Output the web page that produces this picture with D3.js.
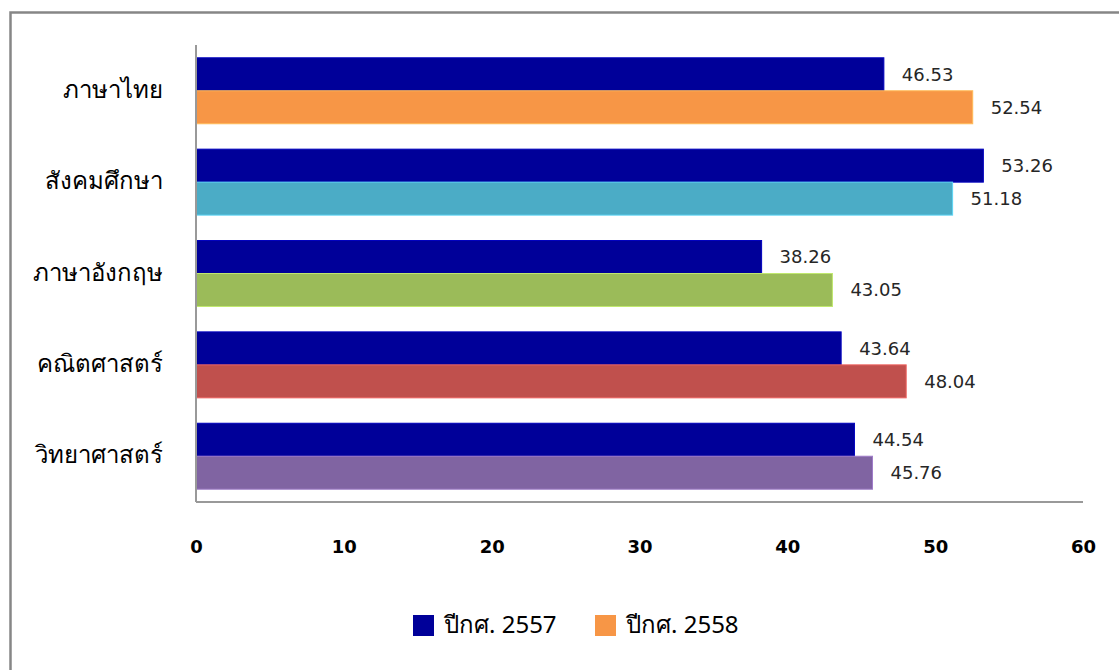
<!DOCTYPE html>
<html>
<head>
<meta charset="utf-8">
<script src="https://cdn.jsdelivr.net/npm/d3@7"></script>
<style>
  body { margin: 0; background: #fff; }
  svg { display: block; }
</style>
</head>
<body>
<svg id="chart"></svg>
<script>
const subjects = ['ภาษาไทย', 'สังคมศึกษา', 'ภาษาอังกฤษ', 'คณิตศาสตร์', 'วิทยาศาสตร์'];
const seriesNames = ['ปีกศ. 2557', 'ปีกศ. 2558'];
const values2557 = [46.53, 53.26, 38.26, 43.64, 44.54];
const values2558 = [52.54, 51.18, 43.05, 48.04, 45.76];
const xTicks = [0, 10, 20, 30, 40, 50, 60];

const navy = '#000099';
const colors2558 = ['#F79646', '#4BACC6', '#9BBB59', '#C0504D', '#8064A2'];

const W = 1119, H = 670;
const margin = {top: 45, right: 36, bottom: 168, left: 196};
const width = W - margin.left - margin.right,
  height = H - margin.top - margin.bottom;

const svg = d3.select('#chart').attr('width', W).attr('height', H);

// outer frame (top and left edges visible)
svg.append('path')
  .attr('d', `M10.5,${H} V12.5 H${W}`)
  .attr('fill', 'none')
  .attr('stroke', '#868686')
  .attr('stroke-width', 2.5);

const g = svg.append('g').attr('transform', `translate(${margin.left},${margin.top})`);

const x = d3.scaleLinear().domain([0, 60]).range([0, width]);
const y = d3.scaleBand().domain(subjects).range([0, height]).paddingInner(0.278).paddingOuter(0.14);
const ySub = d3.scaleBand().domain([0, 1]).range([0, y.bandwidth()]);

const rows = subjects.map((s, i) => ({
  subject: s,
  bars: [
    {k: 0, v: values2557[i], c: navy},
    {k: 1, v: values2558[i], c: colors2558[i]}
  ]
}));

const group = g.selectAll('g.group').data(rows).enter().append('g')
  .attr('class', 'group')
  .attr('transform', d => `translate(0,${y(d.subject)})`);

group.selectAll('rect').data(d => d.bars).enter().append('rect')
  .attr('x', 0)
  .attr('y', d => ySub(d.k))
  .attr('width', d => x(d.v))
  .attr('height', ySub.bandwidth())
  .attr('fill', d => d.c)
  .attr('stroke', d => d3.color(d.c).brighter(0.6))
  .attr('stroke-width', 1);

group.selectAll('text.val').data(d => d.bars).enter().append('text')
  .attr('class', 'val')
  .attr('x', d => x(d.v) + 18)
  .attr('y', d => ySub(d.k) + ySub.bandwidth() / 2)
  .attr('dy', '0.35em')
  .attr('font-family', 'DejaVu Sans, sans-serif')
  .attr('font-size', 18)
  .attr('fill', '#262626')
  .text(d => d.v.toFixed(2));

// category labels
g.selectAll('text.cat').data(subjects).enter().append('text')
  .attr('class', 'cat')
  .attr('x', -33)
  .attr('y', d => y(d) + y.bandwidth() / 2)
  .attr('dy', '0.3em')
  .attr('text-anchor', 'end')
  .attr('font-family', 'Noto Sans, sans-serif')
  .attr('font-size', 24)
  .attr('fill', '#000')
  .text(d => d);

// axes lines
g.append('line').attr('x1', 0).attr('x2', 0).attr('y1', 0).attr('y2', height)
  .attr('stroke', '#999').attr('stroke-width', 2);
g.append('line').attr('x1', 0).attr('x2', width).attr('y1', height).attr('y2', height)
  .attr('stroke', '#999').attr('stroke-width', 2);

const xAxis = d3.axisBottom(x).tickValues(xTicks).tickSize(0).tickPadding(38);
const xg = g.append('g').attr('transform', `translate(0,${height})`).call(xAxis);
xg.select('.domain').remove();
xg.selectAll('text')
  .attr('font-family', 'DejaVu Sans, sans-serif')
  .attr('font-size', 18)
  .attr('font-weight', 'bold')
  .attr('fill', '#000');

// legend
const legend = svg.append('g').attr('transform', 'translate(413,625)');
const legendItems = [{name: seriesNames[0], c: navy, x: 0}, {name: seriesNames[1], c: colors2558[0], x: 182}];
const li = legend.selectAll('g').data(legendItems).enter().append('g')
  .attr('transform', d => `translate(${d.x},0)`);
li.append('rect').attr('x', 0).attr('y', -10).attr('width', 21).attr('height', 21)
  .attr('fill', d => d.c);
li.append('text').attr('x', 31).attr('y', 0).attr('dy', '0.35em')
  .attr('font-family', 'Noto Sans, sans-serif')
  .attr('font-size', 24)
  .attr('fill', '#000')
  .text(d => d.name);
</script>
</body>
</html>
